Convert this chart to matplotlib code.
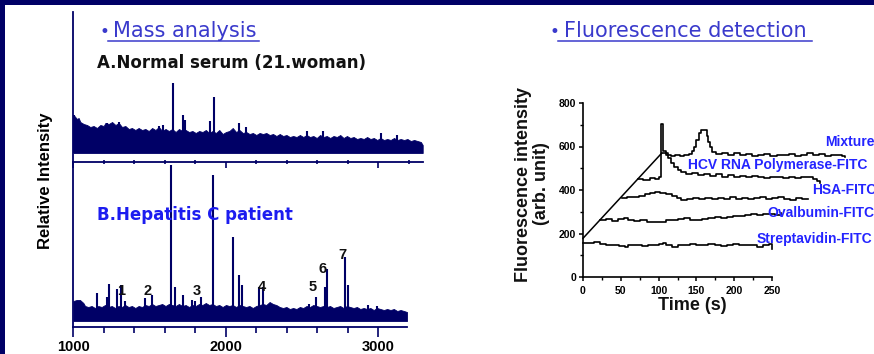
import numpy as np
import matplotlib
matplotlib.use("Agg")
import matplotlib.pyplot as plt
from matplotlib.patches import Rectangle
from matplotlib.lines import Line2D
from matplotlib.ticker import MultipleLocator, FixedLocator

W, H = 874, 354
NAVY = "#000066"
TITLE_BLUE = "#3a3acc"
LABEL_BLUE = "#2424ff"

# ---- mass spectra: noise band top edge (m/z, height above baseline) ----
top_env = [(1004, 47), (1015, 45), (1026, 43), (1037, 44), (1048, 40), (1070, 38), (1092, 37),
           (1113, 35), (1135, 36), (1157, 34), (1179, 37), (1201, 36), (1212, 39), (1234, 38),
           (1256, 40), (1278, 37), (1300, 39), (1321, 35), (1343, 36), (1365, 33), (1386, 34),
           (1408, 32), (1430, 34), (1452, 32), (1474, 33), (1496, 31), (1518, 34), (1540, 32),
           (1562, 35), (1584, 31), (1606, 33), (1628, 31), (1650, 33), (1672, 30), (1694, 33),
           (1716, 31), (1738, 32), (1760, 30), (1782, 31), (1804, 29), (1826, 31), (1848, 30),
           (1870, 32), (1892, 29), (1914, 31), (1936, 29), (1958, 32), (1980, 28), (2002, 30),
           (2024, 31), (2046, 34), (2068, 30), (2090, 32), (2112, 29), (2134, 30), (2156, 28),
           (2178, 29), (2200, 27), (2222, 29), (2244, 28), (2266, 29), (2288, 27), (2310, 28),
           (2332, 26), (2354, 28), (2376, 26), (2398, 27), (2420, 25), (2442, 26), (2464, 25),
           (2486, 27), (2508, 25), (2530, 27), (2552, 25), (2574, 26), (2596, 24), (2618, 27),
           (2640, 25), (2662, 26), (2684, 24), (2706, 26), (2728, 25), (2750, 27), (2772, 24),
           (2794, 26), (2816, 24), (2838, 25), (2860, 23), (2882, 24), (2904, 23), (2926, 25),
           (2948, 23), (2970, 24), (2992, 22), (3014, 24), (3036, 22), (3058, 23), (3080, 22),
           (3102, 24), (3124, 22), (3146, 23), (3168, 22), (3190, 23), (3212, 21), (3234, 22),
           (3256, 21), (3278, 20), (3290, 17)]
top_env_mz, top_env_h = zip(*top_env)
top_peak_mz = [1004, 1221, 1300, 1560, 1592, 1654, 1719, 1735, 1894, 1921, 2090, 2130,
               2530, 2635, 3017, 3120]
top_peak_h = [47, 39, 40, 36, 37, 79, 47, 42, 41, 65, 39, 35,
              31, 31, 29, 27]

bot_env = [(1002, 26), (1024, 27), (1046, 27), (1068, 24), (1079, 21), (1100, 20), (1122, 21),
           (1144, 19), (1166, 21), (1188, 20), (1210, 22), (1232, 20), (1254, 21), (1276, 19),
           (1298, 21), (1320, 20), (1342, 22), (1364, 20), (1386, 21), (1408, 19), (1430, 21),
           (1452, 20), (1474, 22), (1496, 21), (1518, 23), (1540, 21), (1562, 22), (1584, 23),
           (1606, 21), (1628, 23), (1650, 22), (1672, 21), (1694, 23), (1716, 21), (1738, 22),
           (1760, 20), (1782, 22), (1804, 21), (1826, 23), (1848, 22), (1870, 24), (1892, 22),
           (1914, 23), (1936, 21), (1958, 22), (1980, 20), (2002, 22), (2024, 21), (2046, 22),
           (2068, 20), (2090, 22), (2112, 21), (2134, 20), (2156, 21), (2178, 19), (2200, 21),
           (2222, 22), (2244, 23), (2266, 22), (2288, 25), (2310, 23), (2332, 22), (2354, 20),
           (2376, 19), (2398, 20), (2420, 18), (2442, 19), (2464, 18), (2486, 20), (2508, 19),
           (2530, 21), (2552, 20), (2574, 22), (2596, 21), (2618, 20), (2640, 21), (2662, 20),
           (2684, 21), (2706, 19), (2728, 20), (2750, 21), (2772, 19), (2794, 21), (2816, 20),
           (2838, 19), (2860, 20), (2882, 18), (2904, 19), (2926, 18), (2948, 19), (2970, 17),
           (2992, 19), (3014, 18), (3036, 17), (3058, 18), (3080, 17), (3102, 18), (3124, 16),
           (3146, 17), (3168, 16), (3188, 15)]
bot_env_mz, bot_env_h = zip(*bot_env)
bot_peak_mz = [1155, 1221, 1236, 1286, 1312, 1341, 1472, 1515, 1642, 1668, 1722, 1777,
               1799, 1838, 1919, 2046, 2087, 2105, 2220, 2246, 2547, 2591, 2650, 2666,
               2781, 2803, 2935, 2989]
bot_peak_h = [34, 30, 43, 38, 42, 26, 29, 32, 162, 40, 32, 27,
              26, 30, 152, 90, 52, 42, 40, 40, 23, 30, 40, 58,
              70, 42, 22, 21]
peak_names = ["1", "2", "3", "4", "5", "6", "7"]
peak_name_mz = [1312, 1487, 1814, 2236, 2570, 2635, 2766]
peak_name_h = [36, 36, 36, 40, 40, 58, 72]

# ---- fluorescence traces (time s, intensity) ----
strep_t = [0, 8, 14, 22, 30, 40, 48, 55, 60, 70, 78, 86, 95, 100, 106, 110, 118, 126,
           134, 142, 150, 158, 166, 174, 182, 190, 198, 206, 214, 222, 230, 238, 246, 250]
strep_i = [158, 155, 160, 150, 147, 147, 143, 138, 145, 147, 143, 147, 145, 152, 157, 145, 140, 145,
           148, 150, 145, 148, 152, 145, 142, 148, 150, 145, 148, 145, 140, 148, 150, 130]
oval_t = [22, 30, 38, 46, 54, 60, 68, 76, 84, 92, 100, 110, 118, 126, 134, 142, 150, 158,
          166, 174, 182, 190, 198, 206, 214, 222, 230, 238, 246, 254, 262]
oval_i = [262, 265, 258, 268, 272, 262, 258, 263, 255, 252, 255, 260, 262, 268, 270, 264, 262, 266,
          270, 275, 272, 278, 282, 280, 285, 288, 284, 288, 290, 287, 292]
hsa_t = [51, 58, 66, 74, 82, 88, 95, 102, 110, 118, 124, 130, 138, 146, 154, 162, 170, 178,
         186, 194, 202, 210, 218, 226, 234, 242, 250, 258, 266, 274, 282, 290, 298]
hsa_i = [362, 366, 368, 372, 380, 388, 393, 388, 380, 373, 362, 352, 360, 365, 360, 364, 358, 362,
         360, 366, 360, 362, 357, 362, 366, 360, 362, 368, 360, 356, 362, 360, 358]
hcv_t = [73, 80, 88, 95, 100, 103, 106, 110, 113, 116, 120, 125, 130, 136, 144, 152, 160, 168,
         176, 184, 192, 200, 208, 216, 224, 232, 240, 248, 256, 264, 272, 280, 288, 296,
         304, 310, 313]
hcv_i = [450, 446, 455, 450, 458, 705, 578, 568, 548, 525, 508, 492, 482, 472, 476, 468, 474, 466,
         472, 462, 468, 460, 466, 458, 464, 460, 456, 462, 458, 455, 460, 456, 462, 458,
         452, 440, 432]
mix_t = [104, 110, 116, 122, 128, 134, 140, 144, 147, 150, 153, 156, 161, 164, 166, 168, 171, 176,
         184, 192, 200, 208, 216, 224, 232, 240, 248, 256, 264, 272, 280, 288, 296, 304,
         312, 320, 328, 336, 342, 347]
mix_i = [569, 560, 556, 560, 556, 560, 566, 580, 600, 630, 662, 678, 676, 650, 620, 598, 575, 565,
         570, 563, 568, 560, 566, 558, 562, 566, 558, 562, 560, 566, 558, 562, 568, 560,
         564, 558, 562, 560, 556, 550]
guide_t = [0, 104]
guide_i = [178, 569]

trace_names = ["Mixture", "HCV RNA Polymerase-FITC", "HSA-FITC", "Ovalbumin-FITC", "Streptavidin-FITC"]
trace_label_xy = [(825, 146), (688, 169), (812, 194), (767, 217), (757, 243)]


def fx(x):
    return x / W


def fy(y):
    return 1 - y / H


def box(x0, y0, x1, y1):
    return [fx(x0), fy(y1), (x1 - x0) / W, (y1 - y0) / H]


fig = plt.figure(figsize=(W / 100, H / 100), dpi=100)
fig.patch.set_facecolor("white")

# slide frame (navy strip at top and left)
fig.add_artist(Rectangle((0, fy(5)), 1, 5 / H, transform=fig.transFigure, color=NAVY, lw=0))
fig.add_artist(Rectangle((0, 0), 5 / W, 1, transform=fig.transFigure, color=NAVY, lw=0))

# ---------------- left: mass spectra ----------------
ax_top = fig.add_axes(box(73, 12, 422.7, 162))
ax_bot = fig.add_axes(box(73, 162, 407.3, 327))

for ax in (ax_top, ax_bot):
    for s in ("top", "right"):
        ax.spines[s].set_visible(False)
    for s in ("left", "bottom"):
        ax.spines[s].set_color(NAVY)
        ax.spines[s].set_linewidth(1.3)
    ax.set_yticks([])
    ax.patch.set_alpha(0)

ax_top.set_xlim(1000, 3290)
ax_top.set_ylim(0, 150)
ax_top.fill_between(top_env_mz, 9, top_env_h, color=NAVY, lw=0.6, edgecolor=NAVY)
ax_top.vlines(top_peak_mz, 9, top_peak_h, color=NAVY, lw=1.5)
ax_top.xaxis.set_major_locator(FixedLocator([1000, 2000, 3000]))
ax_top.xaxis.set_minor_locator(MultipleLocator(200))
ax_top.tick_params(axis="x", which="major", direction="out", length=4, width=1.2,
                   color=NAVY, labelbottom=False)
ax_top.tick_params(axis="x", which="minor", direction="inout", length=3, width=1.2, color=NAVY)

ax_bot.set_xlim(1000, 3190)
ax_bot.set_ylim(0, 165)
ax_bot.fill_between(bot_env_mz, 6, bot_env_h, color=NAVY, lw=0.6, edgecolor=NAVY)
ax_bot.vlines(bot_peak_mz, 6, bot_peak_h, color=NAVY, lw=1.5)
ax_bot.xaxis.set_major_locator(FixedLocator([1000, 2000, 3000]))
ax_bot.xaxis.set_minor_locator(MultipleLocator(200))
ax_bot.tick_params(axis="x", which="major", direction="out", length=7, width=1.2,
                   color=NAVY, pad=2.5)
ax_bot.tick_params(axis="x", which="minor", direction="out", length=4, width=1.2, color=NAVY)
for lab in ax_bot.get_xticklabels():
    lab.set_fontfamily("Liberation Sans")
    lab.set_fontweight("bold")
    lab.set_fontsize(10.5)

for name, m, h in zip(peak_names, peak_name_mz, peak_name_h):
    ax_bot.text(m, h, name, ha="center", va="center", fontsize=10.5, fontweight="bold",
                family="Liberation Sans", color="#111111")

fig.text(fx(46), fy(181), "Relative Intensity", rotation=90, ha="center", va="center",
         fontsize=12, fontweight="bold", family="Liberation Sans", color="black")
fig.text(fx(97), fy(68), "A.Normal serum (21.woman)", ha="left", va="baseline",
         fontsize=12, fontweight="bold", family="DejaVu Sans", color="#111111")
fig.text(fx(97), fy(220), "B.Hepatitis C patient", ha="left", va="baseline",
         fontsize=12, fontweight="bold", family="DejaVu Sans", color="#1c1cf0")

# titles with bullet and underline
fig.text(fx(99), fy(37), "\u2022", ha="left", va="baseline", fontsize=12, color=TITLE_BLUE)
fig.text(fx(113), fy(37), "Mass analysis", ha="left", va="baseline", fontsize=15,
         family="DejaVu Sans", color=TITLE_BLUE)
fig.add_artist(Line2D([fx(108), fx(259)], [fy(40.7), fy(40.7)], color=TITLE_BLUE, lw=1.1))
fig.text(fx(549), fy(37), "\u2022", ha="left", va="baseline", fontsize=12, color=TITLE_BLUE)
fig.text(fx(564), fy(37), "Fluorescence detection", ha="left", va="baseline", fontsize=15,
         family="DejaVu Sans", color=TITLE_BLUE)
fig.add_artist(Line2D([fx(558), fx(812)], [fy(40.7), fy(40.7)], color=TITLE_BLUE, lw=1.1))

# ---------------- right: fluorescence ----------------
ax_f = fig.add_axes(box(583, 103, 772, 277))
ax_f.patch.set_alpha(0)
for s in ("top", "right"):
    ax_f.spines[s].set_visible(False)
for s in ("left", "bottom"):
    ax_f.spines[s].set_linewidth(1.2)
ax_f.set_xlim(0, 250)
ax_f.set_ylim(0, 800)
ax_f.set_xticks([0, 50, 100, 150, 200, 250])
ax_f.set_yticks([0, 200, 400, 600, 800])
ax_f.xaxis.set_minor_locator(MultipleLocator(25))
ax_f.yaxis.set_minor_locator(MultipleLocator(100))
ax_f.tick_params(which="major", direction="out", length=3, width=1.1)
ax_f.tick_params(which="minor", direction="out", length=2, width=1.0)
ax_f.tick_params(axis="x", pad=3.5)
ax_f.tick_params(axis="y", pad=2)
for lab in ax_f.get_xticklabels() + ax_f.get_yticklabels():
    lab.set_fontfamily(["Liberation Sans Narrow", "Liberation Sans"])
    lab.set_fontweight("bold")
    lab.set_fontsize(7.5)

for t, v in [(strep_t, strep_i), (oval_t, oval_i), (hsa_t, hsa_i), (hcv_t, hcv_i), (mix_t, mix_i)]:
    ax_f.plot(t, v, drawstyle="steps-post", color="black", lw=1.2, clip_on=False)
ax_f.plot(guide_t, guide_i, color="black", lw=1.1, clip_on=False)

fig.text(fx(523), fy(184), "Fluorescence intensity", rotation=90, ha="center", va="center",
         fontsize=13, fontweight="bold", family="Liberation Sans", color="#111111")
fig.text(fx(542), fy(184), "(arb. unit)", rotation=90, ha="center", va="center",
         fontsize=13, fontweight="bold", family="Liberation Sans", color="#111111")
fig.text(fx(692), fy(305), "Time (s)", ha="center", va="center",
         fontsize=13, fontweight="bold", family="Liberation Sans", color="#111111")

for name, (x, y) in zip(trace_names, trace_label_xy):
    fig.text(fx(x), fy(y), name, ha="left", va="baseline", fontsize=10,
             fontweight="bold", family="Liberation Sans", color=LABEL_BLUE)

fig.savefig("out.png", dpi=100)
